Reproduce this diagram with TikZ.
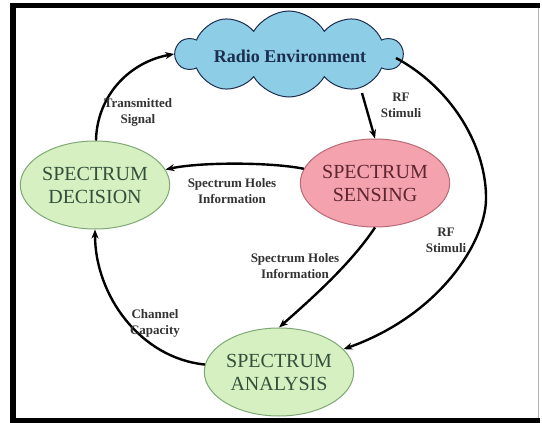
\documentclass[tikz,border=0pt]{standalone}
\usepackage{fontspec}
\setmainfont{Liberation Serif}
\usetikzlibrary{shapes.symbols,shapes.geometric,arrows.meta}
\definecolor{cloudfill}{HTML}{8ECDE6}
\definecolor{cloudtext}{HTML}{1C2E50}
\definecolor{greenfill}{HTML}{D6F0C2}
\definecolor{greenline}{HTML}{7FA874}
\definecolor{greentext}{HTML}{34503A}
\definecolor{pinkfill}{HTML}{F4A2AD}
\definecolor{pinkline}{HTML}{B86A76}
\definecolor{pinktext}{HTML}{5E2630}
\definecolor{labeltext}{HTML}{333333}
\tikzset{
  stage/.style={ellipse, draw, line width=1pt, minimum width=132pt, minimum height=88pt, inner sep=0pt,
    align=center, font=\fontsize{20}{23}\selectfont},
  greenstage/.style={stage, fill=greenfill, draw=greenline, text=greentext},
  pinkstage/.style={stage, fill=pinkfill, draw=pinkline, text=pinktext},
  flow/.style={line width=2.4pt, -{Stealth[length=9pt,width=7pt]}},
  lbl/.style={align=center, text=labeltext, font=\fontsize{13}{16}\selectfont\bfseries},
}
\begin{document}
\begin{tikzpicture}[x=1pt,y=-1pt]
\useasboundingbox (0,0) rectangle (542,423);
\fill[white] (0,0) rectangle (542,423);
% frame
\draw[gray!60, line width=1pt] (13,6) rectangle (538,420);
\fill[black] (10,3) rectangle (540,8);
\fill[black] (10,3) rectangle (16,423);
\fill[black] (10,418) rectangle (540,423);

\node[cloud, cloud puffs=10, cloud puff arc=120, aspect=2.7, draw=cloudtext, line width=1pt, fill=cloudfill,
  minimum width=226pt, minimum height=86pt, inner sep=0pt] (env) at (289,54) {};
\node[text=cloudtext, font=\fontsize{18}{21}\selectfont\bfseries] (envtext) at (290,56) {Radio Environment};

\node[greenstage] (decision) at (95,185) {SPECTRUM\\DECISION};
\node[pinkstage] (sensing) at (375,183) {SPECTRUM\\SENSING};
\node[greenstage] (analysis) at (279,372) {SPECTRUM\\ANALYSIS};

\coordinate (rfstart) at (362,93);
\coordinate (envright) at (396,58);

% connectors
\draw[flow] (decision) .. controls (97,95) and (130,62) .. (env.west);
\draw[flow] (rfstart) -- (sensing.north);
\draw[flow] (sensing) .. controls (270,162) and (200,162) .. (decision);
\draw[flow] (sensing.south) .. controls (350,265) and (310,300) .. (analysis.north);
\draw[flow] (envright) .. controls (455,90) and (487,150) .. (486,200) .. controls (485,242) and (440,315) .. (analysis);
\draw[flow] (analysis) .. controls (140,358) and (95,295) .. (decision);

% labels
\node[lbl] (l1) at (138,112) {Transmitted\\Signal};
\node[lbl] (l2) at (401,105) {RF\\Stimuli};
\node[lbl] (l3) at (232,191) {Spectrum Holes\\Information};
\node[lbl] (l4) at (295,266) {Spectrum Holes\\Information};
\node[lbl] (l5) at (446,240) {RF\\Stimuli};
\node[lbl] (l6) at (155,323) {Channel\\Capacity};
\end{tikzpicture}
\end{document}
